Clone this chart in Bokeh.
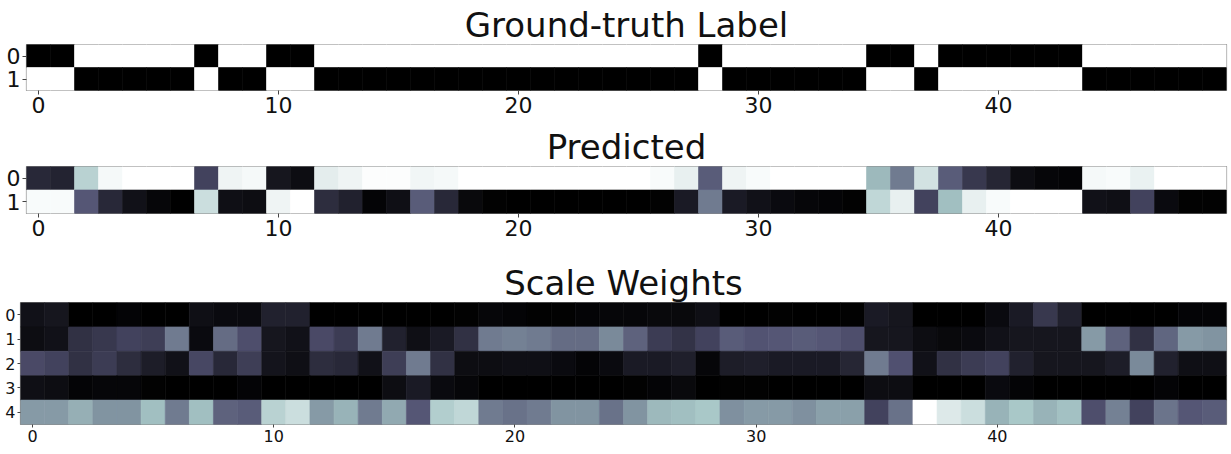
import numpy as np
from bokeh.plotting import figure
from bokeh.models import Range1d, LinearColorMapper, ColumnDataSource, FixedTicker, Title
from bokeh.transform import transform
from bokeh.embed import file_html
from bokeh.resources import INLINE

# ---------------- data ----------------
steps = list(range(50))
x_ticks = [0, 10, 20, 30, 40]

gt_labels = ["0", "1"]
gt_row0 = [0, 0, 1, 1, 1, 1, 1, 0, 1, 1, 0, 0, 1, 1, 1, 1, 1, 1, 1, 1, 1, 1, 1, 1, 1,
           1, 1, 1, 0, 1, 1, 1, 1, 1, 1, 0, 0, 1, 0, 0, 0, 0, 0, 0, 1, 1, 1, 1, 1, 1]
gt_row1 = [1, 1, 0, 0, 0, 0, 0, 1, 0, 0, 1, 1, 0, 0, 0, 0, 0, 0, 0, 0, 0, 0, 0, 0, 0,
           0, 0, 0, 1, 0, 0, 0, 0, 0, 0, 1, 1, 0, 1, 1, 1, 1, 1, 1, 0, 0, 0, 0, 0, 0]

pred_labels = ["0", "1"]
pred_row0 = [0.18, 0.16, 0.80, 0.97, 1.00, 1.00, 1.00, 0.30, 0.95, 0.97,
             0.10, 0.06, 0.92, 0.95, 0.99, 0.99, 0.96, 0.97, 1.00, 1.00,
             1.00, 1.00, 1.00, 1.00, 1.00, 1.00, 0.98, 0.93, 0.40, 0.95,
             0.98, 1.00, 1.00, 1.00, 1.00, 0.70, 0.50, 0.87, 0.40, 0.25,
             0.17, 0.06, 0.03, 0.02, 0.97, 0.98, 0.94, 1.00, 1.00, 1.00]
pred_row1 = [0.98, 0.98, 0.38, 0.18, 0.08, 0.03, 0.00, 0.85, 0.07, 0.06,
             0.95, 1.00, 0.20, 0.15, 0.02, 0.07, 0.40, 0.18, 0.04, 0.01,
             0.00, 0.00, 0.00, 0.00, 0.00, 0.00, 0.01, 0.12, 0.50, 0.12,
             0.08, 0.05, 0.03, 0.02, 0.01, 0.82, 0.93, 0.30, 0.72, 0.93,
             0.98, 1.00, 1.00, 1.00, 0.08, 0.07, 0.30, 0.05, 0.01, 0.01]

sw_labels = ["0", "1", "2", "3", "4"]
sw_row0 = [0.08, 0.10, 0.00, 0.00, 0.02, 0.00, 0.00, 0.07, 0.05, 0.05,
           0.15, 0.15, 0.00, 0.00, 0.00, 0.00, 0.00, 0.00, 0.01, 0.03,
           0.02, 0.01, 0.01, 0.02, 0.03, 0.03, 0.04, 0.04, 0.07, 0.00,
           0.00, 0.01, 0.00, 0.00, 0.01, 0.12, 0.10, 0.00, 0.00, 0.00,
           0.05, 0.12, 0.25, 0.15, 0.00, 0.00, 0.00, 0.00, 0.02, 0.02]
sw_row1 = [0.06, 0.08, 0.22, 0.25, 0.30, 0.28, 0.50, 0.05, 0.45, 0.35,
           0.10, 0.08, 0.33, 0.27, 0.50, 0.15, 0.07, 0.12, 0.22, 0.50,
           0.52, 0.50, 0.45, 0.45, 0.55, 0.42, 0.27, 0.23, 0.30, 0.40,
           0.37, 0.38, 0.40, 0.38, 0.35, 0.10, 0.10, 0.06, 0.04, 0.05,
           0.08, 0.10, 0.10, 0.10, 0.60, 0.42, 0.22, 0.43, 0.60, 0.58]
sw_row2 = [0.33, 0.30, 0.22, 0.27, 0.20, 0.13, 0.08, 0.32, 0.18, 0.28,
           0.09, 0.07, 0.20, 0.18, 0.08, 0.28, 0.50, 0.22, 0.06, 0.06,
           0.07, 0.07, 0.05, 0.02, 0.05, 0.12, 0.12, 0.14, 0.03, 0.13,
           0.14, 0.12, 0.12, 0.12, 0.17, 0.50, 0.36, 0.08, 0.22, 0.27,
           0.30, 0.15, 0.10, 0.10, 0.10, 0.13, 0.55, 0.15, 0.07, 0.07]
sw_row3 = [0.07, 0.06, 0.02, 0.03, 0.03, 0.01, 0.00, 0.00, 0.00, 0.02,
           0.00, 0.00, 0.00, 0.00, 0.00, 0.06, 0.12, 0.05, 0.03, 0.00,
           0.00, 0.00, 0.00, 0.00, 0.00, 0.01, 0.02, 0.04, 0.00, 0.01,
           0.01, 0.00, 0.00, 0.00, 0.00, 0.06, 0.06, 0.00, 0.00, 0.00,
           0.05, 0.02, 0.00, 0.00, 0.00, 0.00, 0.00, 0.02, 0.00, 0.00]
sw_row4 = [0.60, 0.60, 0.67, 0.58, 0.58, 0.72, 0.50, 0.72, 0.42, 0.40,
           0.80, 0.85, 0.60, 0.68, 0.50, 0.65, 0.38, 0.78, 0.82, 0.50,
           0.47, 0.50, 0.58, 0.58, 0.47, 0.58, 0.70, 0.72, 0.75, 0.57,
           0.60, 0.60, 0.57, 0.62, 0.62, 0.30, 0.47, 1.00, 0.90, 0.85,
           0.68, 0.75, 0.68, 0.73, 0.35, 0.52, 0.30, 0.48, 0.38, 0.40]

# ---------------- colormap (matplotlib "bone") ----------------
def bone_palette(n=256):
    t = np.linspace(0, 1, n)
    r = np.interp(t, [0, 0.746032, 1], [0, 0.652778, 1])
    g = np.interp(t, [0, 0.365079, 0.746032, 1], [0, 0.319444, 0.777778, 1])
    b = np.interp(t, [0, 0.365079, 1], [0, 0.444444, 1])
    return ["#%02x%02x%02x" % (int(round(a * 255)), int(round(c * 255)), int(round(d * 255)))
            for a, c, d in zip(r, g, b)]

BONE = bone_palette()
FONT = "DejaVu Sans"


def heatmap(title, rows, row_labels, height, top, bottom, left, right, tick_font, title_font, tick_out):
    xs, ys, vs = [], [], []
    for ri, vals in enumerate(rows):
        for xi, v in zip(steps, vals):
            xs.append(xi)
            ys.append(ri)
            vs.append(v)
    src = ColumnDataSource(dict(x=xs, y=ys, v=vs))
    mapper = LinearColorMapper(palette=BONE, low=0, high=1)
    n = len(rows)
    p = figure(width=1229, height=height,
               x_range=Range1d(-0.5, len(steps) - 0.5),
               y_range=Range1d(n - 0.5, -0.5),
               output_backend="svg", toolbar_location=None, tools="",
               min_border_top=top, min_border_bottom=bottom,
               min_border_left=left, min_border_right=right)
    p.add_layout(Title(text=title, text_font=FONT, text_font_size=title_font,
                       text_font_style="normal", align="center", standoff=0,
                       text_color="#111111"), "above")
    p.rect(x="x", y="y", width=1, height=1, source=src,
           fill_color=transform("v", mapper), line_color=transform("v", mapper),
           line_width=0.6)
    p.grid.visible = False
    p.outline_line_color = "#8a8a8a"
    p.outline_line_width = 1.2
    p.outline_line_alpha = 1
    p.axis.axis_line_color = None
    p.axis.minor_tick_line_color = None
    p.axis.major_tick_in = 0
    p.axis.major_tick_out = tick_out
    p.axis.major_tick_line_color = "#444444"
    p.axis.major_label_text_font = FONT
    p.axis.major_label_text_font_size = tick_font
    p.axis.major_label_text_color = "#111111"
    p.axis.major_label_standoff = 2
    p.xaxis.ticker = FixedTicker(ticks=x_ticks)
    p.yaxis.ticker = FixedTicker(ticks=list(range(n)))
    p.yaxis.major_label_overrides = {i: lab for i, lab in enumerate(row_labels)}
    return p


p1 = heatmap("Ground-truth Label", [gt_row0, gt_row1], gt_labels,
             124, 44, 34, 26, 3, "22px", "34px", 4)
p2 = heatmap("Predicted", [pred_row0, pred_row1], pred_labels,
             123, 42, 34, 26, 3, "22px", "34px", 4)
p3 = heatmap("Scale Weights", [sw_row0, sw_row1, sw_row2, sw_row3, sw_row4], sw_labels,
             205, 55, 28, 20, 3, "16px", "34px", 3)

open("out.html", "w").write(file_html([p1, p2, p3], INLINE))
